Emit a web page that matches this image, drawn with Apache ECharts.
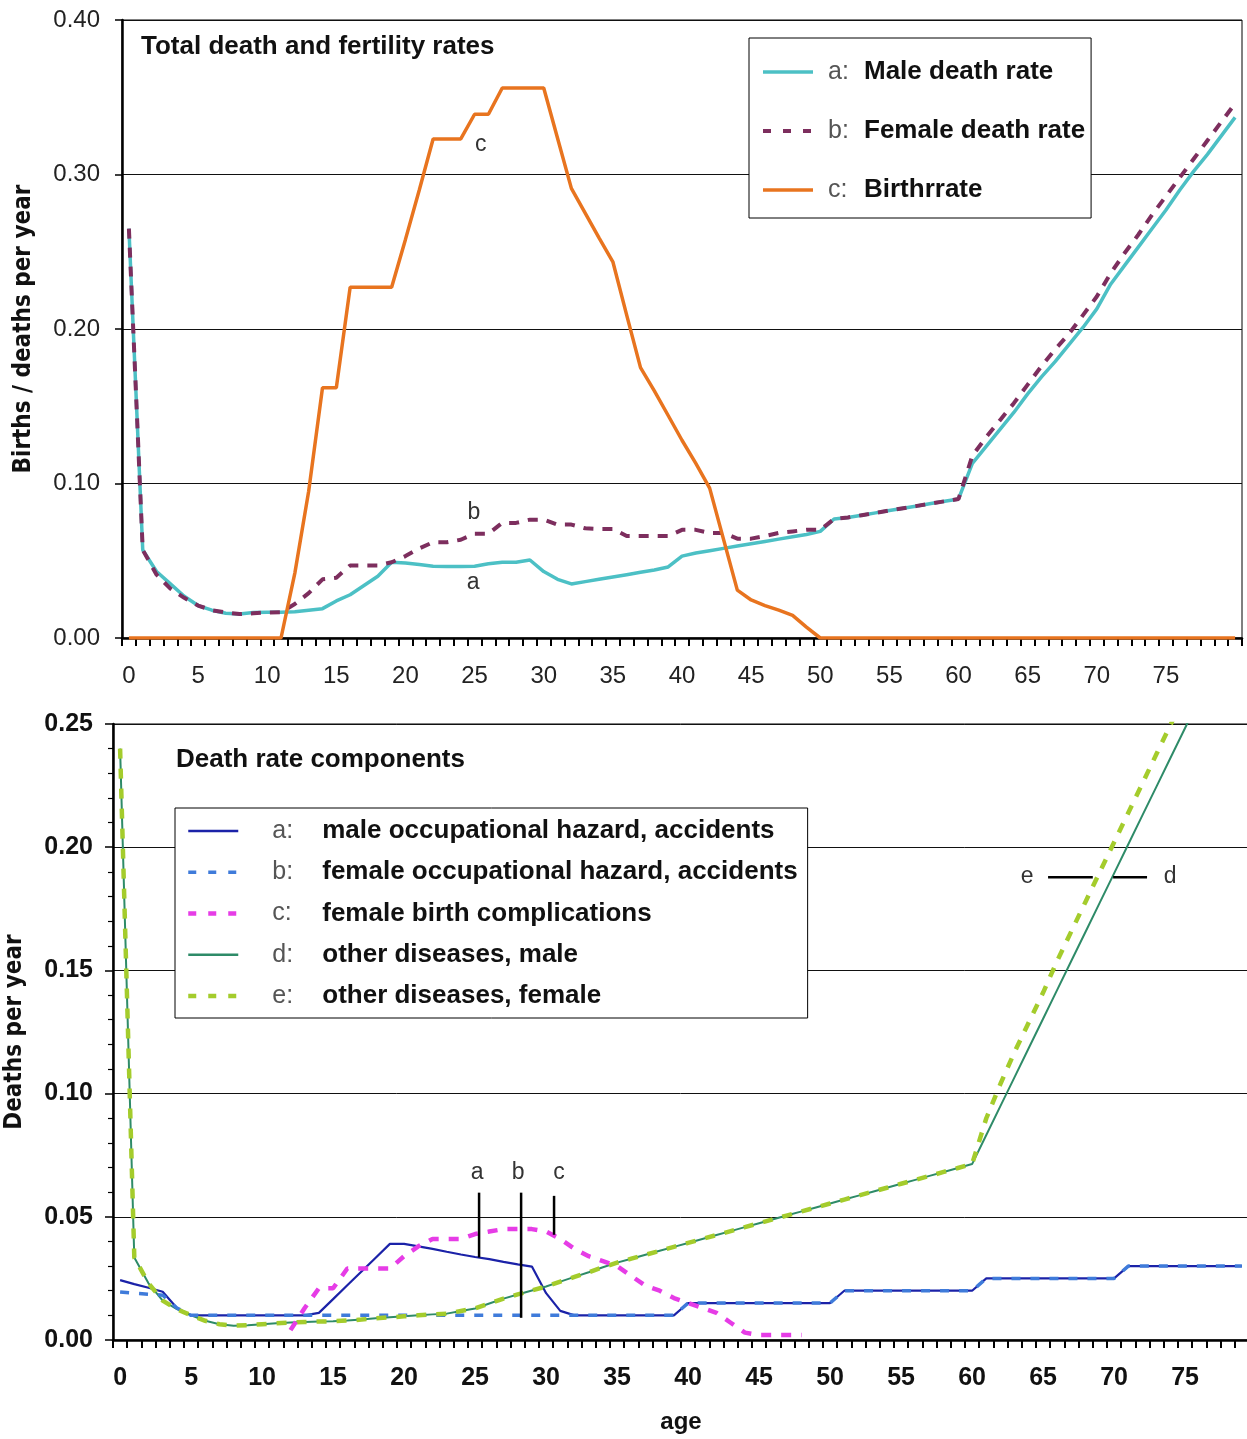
<!DOCTYPE html>
<html>
<head>
<meta charset="utf-8">
<script src="https://cdn.jsdelivr.net/npm/echarts@6.0.0/dist/echarts.min.js"></script>
<style>html,body{margin:0;padding:0;background:#fff}#c{width:1247px;height:1439px}</style>
</head>
<body>
<div id="c"></div>
<script>
// ---------------- DATA ----------------
const agesTop = ['0','1','2','3','4','5','6','7','8','9','10','11','12','13','14','15','16','17','18','19','20','21','22','23','24','25','26','27','28','29','30','31','32','33','34','35','36','37','38','39','40','41','42','43','44','45','46','47','48','49','50','51','52','53','54','55','56','57','58','59','60','61','62','63','64','65','66','67','68','69','70','71','72','73','74','75','76','77','78','79','80'];
const agesBottom = ['0','1','2','3','4','5','6','7','8','9','10','11','12','13','14','15','16','17','18','19','20','21','22','23','24','25','26','27','28','29','30','31','32','33','34','35','36','37','38','39','40','41','42','43','44','45','46','47','48','49','50','51','52','53','54','55','56','57','58','59','60','61','62','63','64','65','66','67','68','69','70','71','72','73','74','75','76','77','78','79'];

const yTicksTop = [0, 0.1, 0.2, 0.3, 0.4];
const yTicksBottom = [0, 0.05, 0.1, 0.15, 0.2, 0.25];

// Top chart: total death and fertility rates
const maleDeathRate = [0.265,0.057,0.043,0.035,0.027,0.021,0.018,0.016,0.0155,0.0165,0.0167,0.0167,0.017,0.018,0.019,0.024,0.028,0.034,0.040,0.049,
  0.0485,0.0475,0.0465,0.0463,0.0463,0.0465,0.048,0.049,0.049,0.0505,0.043,0.038,0.035,0.0365,0.038,0.0395,0.041,0.0425,0.044,0.046,
  0.053,0.055,0.0565,0.058,0.0595,0.061,0.0625,0.064,0.0655,0.067,0.069,0.077,0.078,0.0795,0.081,0.0825,0.084,0.0855,0.087,0.0885,
  0.090,0.113,0.124,0.135,0.146,0.158,0.169,0.179,0.190,0.201,0.213,0.229,0.241,0.253,0.265,0.277,0.290,0.302,0.313,0.325,0.337];
const femaleDeathRate = [0.265,0.057,0.041,0.032,0.026,0.021,0.018,0.0165,0.0155,0.016,0.0165,0.0167,0.022,0.029,0.038,0.039,0.047,0.047,0.047,0.049,
  0.053,0.058,0.062,0.062,0.0636,0.0675,0.0675,0.0745,0.0745,0.0766,0.0766,0.0734,0.0734,0.071,0.0706,0.0706,0.066,0.066,0.066,0.066,
  0.070,0.070,0.068,0.068,0.0643,0.0643,0.066,0.068,0.069,0.070,0.070,0.077,0.078,0.0795,0.081,0.0825,0.084,0.0855,0.087,0.0885,
  0.090,0.118,0.130,0.141,0.152,0.164,0.176,0.187,0.197,0.209,0.221,0.236,0.249,0.261,0.274,0.286,0.298,0.310,0.322,0.334,0.346];
const birthRate = [0,0,0,0,0,0,0,0,0,0,0,0,0.042,0.095,0.162,0.162,0.227,0.227,0.227,0.227,
  0.258,0.290,0.323,0.323,0.323,0.339,0.339,0.356,0.356,0.356,0.356,0.3235,0.291,0.275,0.259,0.2435,0.209,0.175,0.160,0.144,
  0.128,0.113,0.097,0.064,0.031,0.0246,0.021,0.018,0.0146,0.007,0,0,0,0,0,0,0,0,0,0,
  0,0,0,0,0,0,0,0,0,0,0,0,0,0,0,0,0,0,0,0,0];

// Bottom chart: death rate components
const maleOccupational = [0.0243,0.0227,0.0212,0.0196,0.013,0.010,0.010,0.010,0.010,0.010,0.010,0.010,0.010,0.010,0.011,0.0166,0.0222,0.0278,0.0334,0.039,
  0.039,0.038,0.037,0.0358,0.0347,0.0337,0.0328,0.0317,0.0307,0.0298,0.019,0.0118,0.010,0.010,0.010,0.010,0.010,0.010,0.010,0.010,
  0.015,0.015,0.015,0.015,0.015,0.015,0.015,0.015,0.015,0.015,0.015,0.020,0.020,0.020,0.020,0.020,0.020,0.020,0.020,0.020,
  0.020,0.025,0.025,0.025,0.025,0.025,0.025,0.025,0.025,0.025,0.025,0.030,0.030,0.030,0.030,0.030,0.030,0.030,0.030,0.030];
const femaleOccupational = [0.0195,0.019,0.0186,0.0182,0.013,0.010,0.010,0.010,0.010,0.010,0.010,0.010,0.010,0.010,0.010,0.010,0.010,0.010,0.010,0.010,
  0.010,0.010,0.010,0.010,0.010,0.010,0.010,0.010,0.010,0.010,0.010,0.010,0.010,0.010,0.010,0.010,0.010,0.010,0.010,0.010,
  0.015,0.015,0.015,0.015,0.015,0.015,0.015,0.015,0.015,0.015,0.015,0.020,0.020,0.020,0.020,0.020,0.020,0.020,0.020,0.020,
  0.020,0.025,0.025,0.025,0.025,0.025,0.025,0.025,0.025,0.025,0.025,0.030,0.030,0.030,0.030,0.030,0.030,0.030,0.030,0.030];
const birthComplications = [null,null,null,null,null,null,null,null,null,null,null,null,0.004,0.013,0.021,0.021,0.029,0.029,0.029,0.029,
  0.034,0.038,0.041,0.041,0.041,0.043,0.044,0.045,0.045,0.045,0.044,0.041,0.037,0.034,0.032,0.030,0.026,0.022,0.020,0.017,
  0.015,0.013,0.011,0.007,0.003,0.002,0.002,0.002,0.002,null,null,null,null,null,null,null,null,null,null,null,
  null,null,null,null,null,null,null,null,null,null,null,null,null,null,null,null,null,null,null,null];
const otherMale = [0.240,0.0335,0.023,0.016,0.0125,0.010,0.0078,0.0064,0.0058,0.006,0.0064,0.0068,0.0071,0.0073,0.0075,0.0076,0.0079,0.0083,0.0088,0.0092,
  0.0096,0.0100,0.0104,0.0107,0.0118,0.0128,0.0148,0.0168,0.0185,0.0201,0.0217,0.0237,0.0256,0.0275,0.0295,0.0314,0.033,0.0346,0.0362,0.0378,
  0.0394,0.041,0.0426,0.0442,0.0458,0.0474,0.049,0.0506,0.0522,0.0538,0.0554,0.057,0.0586,0.0602,0.0618,0.0634,0.065,0.0666,0.0682,0.0698,
  0.0714,0.0832,0.095,0.1068,0.1186,0.1304,0.1422,0.154,0.1658,0.1776,0.1894,0.2012,0.213,0.2248,0.2366,0.2484,0.2602,0.272,0.2838,0.2956];
const otherFemale = [0.240,0.0335,0.023,0.016,0.0125,0.010,0.0078,0.0064,0.0058,0.006,0.0064,0.0068,0.0071,0.0073,0.0075,0.0076,0.0079,0.0083,0.0088,0.0092,
  0.0096,0.0100,0.0104,0.0107,0.0118,0.0128,0.0148,0.0168,0.0185,0.0201,0.0217,0.0237,0.0256,0.0275,0.0295,0.0314,0.033,0.0346,0.0362,0.0378,
  0.0394,0.041,0.0426,0.0442,0.0458,0.0474,0.049,0.0506,0.0522,0.0538,0.0554,0.057,0.0586,0.0602,0.0618,0.0634,0.065,0.0666,0.0682,0.0698,
  0.0714,0.090,0.104,0.117,0.129,0.141,0.154,0.166,0.178,0.190,0.202,0.214,0.226,0.238,0.250,0.262,0.274,0.286,0.298,0.310];

// Legend names / letters
const topNames = ['Male death rate', 'Female death rate', 'Birthrrate'];
const topLetters = ['a', 'b', 'c'];
const bottomNames = ['male occupational hazard, accidents', 'female occupational hazard, accidents', 'female birth complications', 'other diseases, male', 'other diseases, female'];
const bottomLetters = ['a', 'b', 'c', 'd', 'e'];

// Annotation anchors in data coordinates [age, value]
const topLabels = [['c', 25.45, 0.319], ['b', 24.95, 0.081], ['a', 24.9, 0.0356]];
const bottomLabels = [['a', 25.14, 0.068], ['b', 28.03, 0.068], ['c', 30.9, 0.068], ['e', 63.87, 0.188], ['d', 73.94, 0.188]];
const bottomPointers = [
  [25.28, 0.0598, 25.28, 0.0335],
  [28.24, 0.0598, 28.24, 0.009],
  [30.56, 0.0585, 30.56, 0.0427],
  [65.35, 0.1878, 68.5, 0.1878],
  [69.93, 0.1878, 72.32, 0.1878]
];

// ---------------- STYLES ----------------
const FONT = "'Liberation Sans', Arial, Helvetica, sans-serif";
const NARROW = "'Liberation Sans Narrow', 'Arial Narrow', 'DejaVu Sans Condensed', sans-serif";

const topStyles = [
  {color: '#4CC0C5', width: 3.5, type: 'solid'},
  {color: '#7D2E5E', width: 4, type: [10, 9]},
  {color: '#E8741F', width: 3.5, type: 'solid'}
];
const bottomStyles = [
  {color: '#1B22A8', width: 2.2, type: 'solid'},
  {color: '#3F7BDA', width: 3.5, type: [9, 10]},
  {color: '#E63CE6', width: 4.5, type: [10, 10]},
  {color: '#2E8B68', width: 2, type: 'solid'},
  {color: '#A4CC2C', width: 4.5, type: [10, 10]}
];
const legendDash = [8, 12];

const chart = echarts.init(document.getElementById('c'), null, {renderer: 'canvas'});

function letterOf(names, letters, n) { return letters[names.indexOf(n)]; }

function legendData(names, styles) {
  return names.map((n, i) => ({
    name: n,
    itemStyle: {opacity: 0},
    lineStyle: {color: styles[i].color, width: Math.max(styles[i].width, 2.5), type: styles[i].type === 'solid' ? 'solid' : legendDash, opacity: 1}
  }));
}

const option = {
  animation: false,
  backgroundColor: '#ffffff',
  textStyle: {fontFamily: FONT},
  title: [
    {text: 'Total death and fertility rates', left: 141, top: 34, padding: 0,
     textStyle: {fontSize: 26, fontWeight: 'bold', color: '#111', fontFamily: FONT}},
    {text: 'Death rate components', left: 176, top: 747, padding: 0,
     textStyle: {fontSize: 26, fontWeight: 'bold', color: '#111', fontFamily: FONT}}
  ],
  legend: [
    {
      data: legendData(topNames, topStyles), orient: 'vertical', left: 749, top: 38,
      padding: [21, 6, 15, 12], itemWidth: 50, itemHeight: 26, itemGap: 33,
      borderColor: '#000', borderWidth: 1, backgroundColor: '#fff', selectedMode: false,
      itemStyle: {opacity: 0},
      formatter: n => '{l|' + letterOf(topNames, topLetters, n) + ':}{n|' + n + '}',
      textStyle: {rich: {
        l: {fontSize: 25, color: '#555', width: 36, padding: [0, 0, 0, 10], fontFamily: FONT},
        n: {fontSize: 26, fontWeight: 'bold', color: '#111', fontFamily: FONT}
      }}
    },
    {
      data: legendData(bottomNames, bottomStyles), orient: 'vertical', left: 175, top: 808,
      padding: [10, 10, 9, 11], itemWidth: 50, itemHeight: 26, itemGap: 15.25,
      borderColor: '#000', borderWidth: 1, backgroundColor: '#fff', selectedMode: false,
      itemStyle: {opacity: 0},
      formatter: n => '{l|' + letterOf(bottomNames, bottomLetters, n) + ':}{n|' + n + '}',
      textStyle: {rich: {
        l: {fontSize: 25, color: '#555', width: 50, padding: [0, 0, 0, 29], fontFamily: FONT},
        n: {fontSize: 26, fontWeight: 'bold', color: '#111', fontFamily: FONT}
      }}
    }
  ],
  grid: [
    {left: 122, top: 20, width: 1120, height: 618, show: true, borderColor: '#000', borderWidth: 1, outerBoundsMode: 'none', containLabel: false},
    {left: 113, top: 724, width: 1136, height: 616, show: true, borderColor: '#000', borderWidth: 1, outerBoundsMode: 'none', containLabel: false}
  ],
  xAxis: [
    {gridIndex: 0, type: 'category', data: agesTop, boundaryGap: true,
     axisLine: {lineStyle: {color: '#000', width: 2.5}},
     axisTick: {show: true, interval: 0, length: 8, lineStyle: {color: '#000', width: 2}},
     axisLabel: {interval: (i) => i % 5 === 0 && i <= 75, fontSize: 24, color: '#222', margin: 26, fontFamily: FONT},
     splitLine: {show: false}},
    {gridIndex: 1, type: 'category', data: agesBottom, boundaryGap: true,
     name: 'age', nameLocation: 'middle', nameGap: 70,
     nameTextStyle: {fontSize: 24, fontWeight: 'bold', color: '#111', fontFamily: FONT},
     axisLine: {lineStyle: {color: '#000', width: 2.5}},
     axisTick: {show: true, interval: 0, length: 8, lineStyle: {color: '#000', width: 2}},
     axisLabel: {interval: (i) => i % 5 === 0 && i <= 75, fontSize: 25, fontWeight: 'bold', color: '#111', margin: 26, fontFamily: FONT},
     splitLine: {show: false}}
  ],
  yAxis: [
    {gridIndex: 0, type: 'value', min: yTicksTop[0], max: yTicksTop[yTicksTop.length - 1], interval: 0.1,
     name: 'Births / deaths per year', nameLocation: 'middle', nameGap: 86,
     nameTextStyle: {fontSize: 24, fontWeight: 'bold', color: '#111', fontFamily: NARROW},
     axisLine: {show: true, lineStyle: {color: '#000', width: 2.5}},
     axisTick: {show: true, length: 7, lineStyle: {color: '#000', width: 1.5}},
     axisLabel: {formatter: v => v.toFixed(2), fontSize: 24, color: '#222', margin: 22, fontFamily: FONT},
     splitLine: {show: true, lineStyle: {color: '#111', width: 1}}},
    {gridIndex: 1, type: 'value', min: yTicksBottom[0], max: yTicksBottom[yTicksBottom.length - 1], interval: 0.05,
     name: 'Deaths per year', nameLocation: 'middle', nameGap: 86,
     nameTextStyle: {fontSize: 24, fontWeight: 'bold', color: '#111', fontFamily: NARROW},
     axisLine: {show: true, lineStyle: {color: '#000', width: 2.5}},
     axisTick: {show: true, length: 8, lineStyle: {color: '#000', width: 1.5}},
     minorTick: {show: true, splitNumber: 5, length: 5, lineStyle: {color: '#000', width: 1.2}},
     axisLabel: {formatter: v => v.toFixed(2), fontSize: 25, fontWeight: 'bold', color: '#111', margin: 20, fontFamily: FONT},
     splitLine: {show: true, lineStyle: {color: '#111', width: 1}}}
  ],
  series: [
    {name: topNames[0], type: 'line', xAxisIndex: 0, yAxisIndex: 0, data: maleDeathRate, symbol: 'none',
     lineStyle: topStyles[0], itemStyle: {color: topStyles[0].color}, z: 3},
    {name: topNames[1], type: 'line', xAxisIndex: 0, yAxisIndex: 0, data: femaleDeathRate, symbol: 'none',
     lineStyle: topStyles[1], itemStyle: {color: topStyles[1].color}, z: 4},
    {name: topNames[2], type: 'line', xAxisIndex: 0, yAxisIndex: 0, data: birthRate, symbol: 'none',
     lineStyle: topStyles[2], itemStyle: {color: topStyles[2].color}, z: 5},

    {name: bottomNames[0], type: 'line', xAxisIndex: 1, yAxisIndex: 1, data: maleOccupational, symbol: 'none',
     lineStyle: bottomStyles[0], itemStyle: {color: bottomStyles[0].color}, z: 3},
    {name: bottomNames[1], type: 'line', xAxisIndex: 1, yAxisIndex: 1, data: femaleOccupational, symbol: 'none',
     lineStyle: bottomStyles[1], itemStyle: {color: bottomStyles[1].color}, z: 4},
    {name: bottomNames[2], type: 'line', xAxisIndex: 1, yAxisIndex: 1, data: birthComplications, symbol: 'none', connectNulls: false,
     lineStyle: bottomStyles[2], itemStyle: {color: bottomStyles[2].color}, z: 5},
    {name: bottomNames[3], type: 'line', xAxisIndex: 1, yAxisIndex: 1, data: otherMale, symbol: 'none',
     lineStyle: bottomStyles[3], itemStyle: {color: bottomStyles[3].color}, z: 3},
    {name: bottomNames[4], type: 'line', xAxisIndex: 1, yAxisIndex: 1, data: otherFemale, symbol: 'none',
     lineStyle: bottomStyles[4], itemStyle: {color: bottomStyles[4].color}, z: 4}
  ]
};

chart.setOption(option);

// Annotations positioned from data coordinates
function px(gi, age, val) {
  const i0 = Math.floor(age), f = age - i0;
  const p0 = chart.convertToPixel({gridIndex: gi}, [i0, val]);
  const p1 = chart.convertToPixel({gridIndex: gi}, [i0 + 1, val]);
  return [p0[0] + (p1[0] - p0[0]) * f, p0[1]];
}
const graphics = [];
function addLabel(gi, t, age, val) {
  const p = px(gi, age, val);
  graphics.push({type: 'text', x: p[0], y: p[1], z: 100,
    style: {text: t, fill: '#333', font: '23px ' + FONT, textAlign: 'center', textVerticalAlign: 'middle', align: 'center', verticalAlign: 'middle'}});
}
topLabels.forEach(a => addLabel(0, a[0], a[1], a[2]));
bottomLabels.forEach(a => addLabel(1, a[0], a[1], a[2]));
bottomPointers.forEach(l => {
  const p1 = px(1, l[0], l[1]), p2 = px(1, l[2], l[3]);
  graphics.push({type: 'line', z: 100, shape: {x1: p1[0], y1: p1[1], x2: p2[0], y2: p2[1]},
    style: {stroke: '#000', lineWidth: 2.5}});
});
chart.setOption({graphic: graphics});
</script>
</body>
</html>
